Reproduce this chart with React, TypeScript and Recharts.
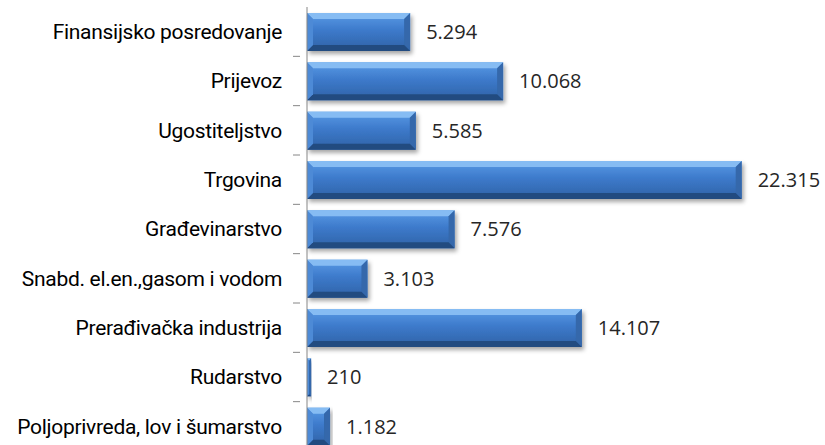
import { BarChart, Bar, XAxis, YAxis, LabelList } from 'recharts'

// Sektori, od vrha prema dnu
const sectors = [
  'Finansijsko posredovanje',
  'Prijevoz',
  'Ugostiteljstvo',
  'Trgovina',
  'Građevinarstvo',
  'Snabd. el.en.,gasom i vodom',
  'Prerađivačka industrija',
  'Rudarstvo',
  'Poljoprivreda, lov i šumarstvo',
]

const employees = [5294, 10068, 5585, 22315, 7576, 3103, 14107, 210, 1182]

const data = sectors.map((sector, i) => ({ sector, value: employees[i] }))

const CHART_H = 460
const MARGIN_TOP = 7
const MARGIN_BOTTOM = 9
const bandH = (CHART_H - MARGIN_TOP - MARGIN_BOTTOM) / sectors.length

const fmt = (v: number) => v.toString().replace(/\B(?=(\d{3})+(?!\d))/g, '.')

const SectorTick = (props: any) => {
  const { x, y, payload } = props
  return (
    <g>
      <line x1={x - 6} x2={x + 1} y1={y + bandH / 2} y2={y + bandH / 2} stroke="#868686" />
      <text
        x={x - 17}
        y={y}
        dy="0.35em"
        textAnchor="end"
        fill="#000"
        fontSize={21}
        letterSpacing={-0.3}
        fontFamily="Roboto, sans-serif"
      >
        {payload.value}
      </text>
    </g>
  )
}

const BevelBar = (props: any) => {
  const { x, y, width, height } = props
  if (!width || width <= 0) return null
  const b = Math.min(6, width / 2, height / 2)
  return (
    <g filter="url(#barShadow)">
      <rect x={x} y={y} width={width} height={height} fill="url(#barFill)" />
      <polygon
        points={`${x},${y} ${x + width},${y} ${x + width - b},${y + b} ${x + b},${y + b}`}
        fill="#86bcf3"
      />
      <polygon
        points={`${x + width},${y} ${x + width},${y + height} ${x + width - b},${y + height - b} ${x + width - b},${y + b}`}
        fill="#3468ab"
      />
      <polygon
        points={`${x},${y + height} ${x + width},${y + height} ${x + width - b},${y + height - b} ${x + b},${y + height - b}`}
        fill="#234b80"
      />
      <polygon
        points={`${x},${y} ${x + b},${y + b} ${x + b},${y + height - b} ${x},${y + height}`}
        fill="#4d8ad6"
      />
    </g>
  )
}

const App = () => {
  return (
    <div style={{ position: 'absolute', left: 0, top: 0, width: 825, height: 445, overflow: 'hidden', background: '#fff' }}>
      <BarChart
        width={825}
        height={CHART_H}
        data={data}
        layout="vertical"
        margin={{ top: MARGIN_TOP, right: 31, left: 0, bottom: MARGIN_BOTTOM }}
        barSize={38}
      >
        <defs>
          <linearGradient id="barFill" x1="0" y1="0" x2="0" y2="1">
            <stop offset="0%" stopColor="#5a9be6" />
            <stop offset="45%" stopColor="#3d7acb" />
            <stop offset="100%" stopColor="#2f62a6" />
          </linearGradient>
          <filter id="barShadow" x="-5%" y="-20%" width="115%" height="160%">
            <feDropShadow dx="2" dy="3" stdDeviation="2" floodColor="#000" floodOpacity="0.35" />
          </filter>
        </defs>
        <XAxis type="number" domain={[0, 25000]} hide />
        <YAxis
          type="category"
          dataKey="sector"
          width={307}
          axisLine={{ stroke: '#868686' }}
          tickLine={false}
          tick={<SectorTick />}
          interval={0}
        />
        <Bar dataKey="value" shape={<BevelBar />} isAnimationActive={false}>
          <LabelList
            dataKey="value"
            position="right"
            offset={16}
            formatter={(v: any) => fmt(Number(v))}
            fill="#262626"
            fontSize={20}
            fontFamily="'Open Sans', sans-serif"
          />
        </Bar>
      </BarChart>
    </div>
  )
}

export default App
